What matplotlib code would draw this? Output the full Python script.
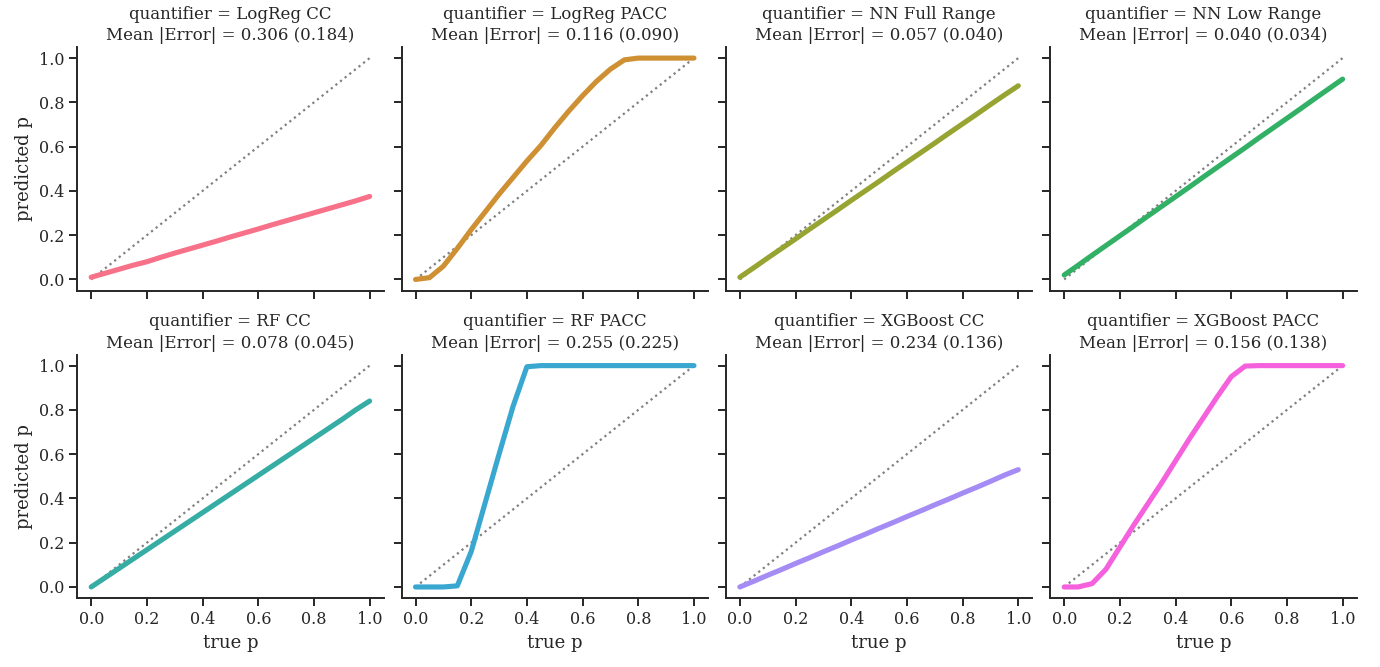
#!/usr/bin/env python3
"""
Calibration of quantifiers: predicted prevalence vs. true prevalence, one panel per quantifier.
"""
import numpy as np
import matplotlib
matplotlib.use("Agg")
import matplotlib.pyplot as plt
import seaborn as sns

# True prevalence grid (shared by all quantifiers)
true_p = [0.00, 0.05, 0.10, 0.15, 0.20, 0.25, 0.30, 0.35, 0.40, 0.45, 0.50,
          0.55, 0.60, 0.65, 0.70, 0.75, 0.80, 0.85, 0.90, 0.95, 1.00]

quantifiers = ["LogReg CC", "LogReg PACC", "NN Full Range", "NN Low Range",
               "RF CC", "RF PACC", "XGBoost CC", "XGBoost PACC"]

# Mean |Error| and (std) per quantifier
mean_err = [0.306, 0.116, 0.057, 0.040, 0.078, 0.255, 0.234, 0.156]
std_err = [0.184, 0.090, 0.040, 0.034, 0.045, 0.225, 0.136, 0.138]

# Predicted prevalence
logreg_cc = [0.010, 0.028, 0.046, 0.064, 0.080, 0.100, 0.119, 0.137, 0.155, 0.173, 0.192,
             0.210, 0.228, 0.247, 0.265, 0.283, 0.301, 0.319, 0.337, 0.355, 0.375]
logreg_pacc = [0.000, 0.008, 0.060, 0.140, 0.225, 0.305, 0.385, 0.460, 0.535, 0.605, 0.685,
               0.760, 0.830, 0.895, 0.950, 0.992, 1.000, 1.000, 1.000, 1.000, 1.000]
nn_full = [0.010, 0.053, 0.097, 0.140, 0.183, 0.227, 0.270, 0.313, 0.357, 0.400, 0.443,
           0.487, 0.530, 0.573, 0.616, 0.660, 0.703, 0.746, 0.790, 0.833, 0.875]
nn_low = [0.020, 0.064, 0.109, 0.153, 0.197, 0.241, 0.286, 0.330, 0.374, 0.418, 0.463,
          0.507, 0.551, 0.595, 0.640, 0.684, 0.728, 0.772, 0.817, 0.861, 0.905]
rf_cc = [0.000, 0.042, 0.084, 0.126, 0.168, 0.210, 0.252, 0.294, 0.336, 0.378, 0.420,
         0.462, 0.504, 0.546, 0.588, 0.630, 0.672, 0.714, 0.756, 0.800, 0.840]
rf_pacc = [0.000, 0.000, 0.000, 0.005, 0.160, 0.380, 0.600, 0.815, 0.995, 1.000, 1.000,
           1.000, 1.000, 1.000, 1.000, 1.000, 1.000, 1.000, 1.000, 1.000, 1.000]
xgb_cc = [0.000, 0.026, 0.053, 0.079, 0.106, 0.132, 0.159, 0.185, 0.212, 0.238, 0.265,
          0.291, 0.318, 0.344, 0.371, 0.397, 0.424, 0.450, 0.477, 0.505, 0.530]
xgb_pacc = [0.000, 0.000, 0.015, 0.080, 0.180, 0.280, 0.375, 0.470, 0.570, 0.670, 0.765,
            0.860, 0.950, 0.998, 1.000, 1.000, 1.000, 1.000, 1.000, 1.000, 1.000]

predicted = [logreg_cc, logreg_pacc, nn_full, nn_low, rf_cc, rf_pacc, xgb_cc, xgb_pacc]


def main():
    sns.set_style("ticks")
    plt.rcParams["font.family"] = ["DejaVu Serif"]
    plt.rcParams["xtick.major.size"] = 6
    plt.rcParams["ytick.major.size"] = 6
    plt.rcParams["axes.linewidth"] = 1.4
    plt.rcParams["xtick.major.width"] = 1.4
    plt.rcParams["ytick.major.width"] = 1.4

    colors = sns.color_palette("husl", 8)

    fig, axes = plt.subplots(2, 4, figsize=(13.8, 6.67), dpi=100, sharex=True, sharey=True)
    fig.subplots_adjust(left=0.056, right=0.983, top=0.9295, bottom=0.1034,
                        wspace=0.059, hspace=0.263)

    for i, ax in enumerate(axes.flat):
        ax.plot([0, 1], [0, 1], ls=":", color="gray", lw=1.6)
        ax.plot(true_p, predicted[i], color=colors[i], lw=3.7, solid_capstyle="round")
        ax.set_title(f"quantifier = {quantifiers[i]}\nMean |Error| = {mean_err[i]:.3f} ({std_err[i]:.3f})",
                     fontsize=12, color="#262626", linespacing=1.35, pad=5)
        ax.set_xlim(-0.05, 1.05)
        ax.set_ylim(-0.05, 1.05)
        ax.set_xticks(np.arange(0, 1.01, 0.2))
        ax.set_yticks(np.arange(0, 1.01, 0.2))
        ax.tick_params(labelsize=11.5, colors="#262626")
        sns.despine(ax=ax)

    for ax in axes[1]:
        ax.set_xlabel("true p", fontsize=13, color="#262626")
    for ax in axes[:, 0]:
        ax.set_ylabel("predicted p", fontsize=13, color="#262626")

    fig.savefig("out.png")


if __name__ == "__main__":
    main()
